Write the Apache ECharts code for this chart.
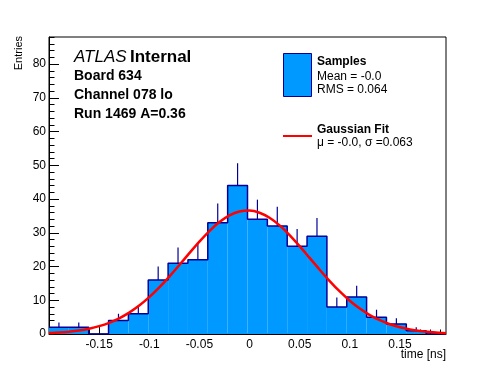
<!DOCTYPE html>
<html>
<head>
<meta charset="utf-8">
<script src="https://cdn.jsdelivr.net/npm/echarts@6/dist/echarts.min.js"></script>
<style>html,body{margin:0;padding:0;background:#fff;}#c{width:496px;height:372px;}</style>
</head>
<body>
<div id="c"></div>
<script>
// ---- data ----
const binEdges = [-0.2, -0.1802, -0.1604, -0.1406, -0.1208, -0.101, -0.0812, -0.0614, -0.0416, -0.0218, -0.002,
                  0.0178, 0.0376, 0.0574, 0.0772, 0.097, 0.1168, 0.1366, 0.1564, 0.1762, 0.196];
const counts = [2, 2, 0, 4, 6, 16, 21, 22, 33, 44, 34, 32, 26, 29, 8, 11, 5, 3, 1, 0];
const errUp  = [1.4, 1.4, 0, 2, 2.4, 4, 4.6, 4.7, 5.7, 6.6, 5.8, 5.7, 5.1, 5.4, 2.8, 3.3, 2.2, 1.7, 1, 0];
const fitX = [-0.20, -0.19, -0.18, -0.17, -0.16, -0.15, -0.14, -0.13, -0.12, -0.11, -0.10, -0.09, -0.08, -0.07, -0.06,
              -0.05, -0.04, -0.03, -0.02, -0.01, 0.00, 0.01, 0.02, 0.03, 0.04, 0.05, 0.06, 0.07, 0.08, 0.09, 0.10,
              0.11, 0.12, 0.13, 0.14, 0.15, 0.16, 0.17, 0.18, 0.19, 0.196];
const fitY = [0.26, 0.43, 0.68, 1.04, 1.58, 2.32, 3.32, 4.65, 6.34, 8.42, 10.91, 13.80, 17.01, 20.44, 23.96,
              27.38, 30.51, 33.16, 35.14, 36.31, 36.58, 35.94, 34.43, 32.17, 29.31, 26.03, 22.55, 19.05, 15.69, 12.60, 9.87,
              7.54, 5.61, 4.08, 2.89, 1.99, 1.34, 0.88, 0.56, 0.35, 0.25];
const xTickLabels = [-0.15, -0.1, -0.05, 0, 0.05, 0.1, 0.15];
const xMinorTicks = [-0.19, -0.18, -0.17, -0.16, -0.14, -0.13, -0.12, -0.11, -0.09, -0.08, -0.07, -0.06,
                     -0.04, -0.03, -0.02, -0.01, 0.01, 0.02, 0.03, 0.04, 0.06, 0.07, 0.08, 0.09,
                     0.11, 0.12, 0.13, 0.14, 0.16, 0.17, 0.18, 0.19];
const yTickLabels = [0, 10, 20, 30, 40, 50, 60, 70, 80];
const yMinorTicks = [2, 4, 6, 8, 12, 14, 16, 18, 22, 24, 26, 28, 32, 34, 36, 38, 42, 44, 46, 48,
                     52, 54, 56, 58, 62, 64, 66, 68, 72, 74, 76, 78, 82, 84, 86, 88];
const xMin = -0.2, xMax = 0.196, yMin = 0, yMax = 88;

const FONT = '"Liberation Sans", Arial, Helvetica, sans-serif';
const FILL = '#0099ff', LINE = '#000099';

const chart = echarts.init(document.getElementById('c'), null, {renderer: 'canvas'});

const histData = counts.map((c, i) => [binEdges[i], binEdges[i + 1], c]);
const outlineData = binEdges.map((e, i) => [e, i < counts.length ? counts[i] : counts[counts.length - 1]]);
const errData = counts.map((c, i) => [(binEdges[i] + binEdges[i + 1]) / 2, c, errUp[i]]).filter(d => d[1] > 0);
const fitData = fitX.map((x, i) => [x, fitY[i]]);

const majorX = {
  type: 'value', min: xMin, max: xMax, position: 'bottom',
  axisLine: {show: true, onZero: false, lineStyle: {color: '#000', width: 1}},
  axisTick: {show: true, inside: true, length: 9, lineStyle: {color: '#000'}, customValues: xTickLabels},
  axisLabel: {show: true, color: '#000', fontFamily: FONT, fontSize: 12, margin: 5, customValues: xTickLabels},
  splitLine: {show: false}
};
const minorX = {
  type: 'value', min: xMin, max: xMax, position: 'bottom',
  axisLine: {show: false, onZero: false},
  axisTick: {show: true, inside: true, length: 4.5, lineStyle: {color: '#000'}, customValues: xMinorTicks},
  axisLabel: {show: false},
  splitLine: {show: false}
};
const majorY = {
  type: 'value', min: yMin, max: yMax, position: 'left',
  axisLine: {show: true, onZero: false, lineStyle: {color: '#000', width: 1}},
  axisTick: {show: true, inside: true, length: 10, lineStyle: {color: '#000'}, customValues: yTickLabels},
  axisLabel: {show: true, color: '#000', fontFamily: FONT, fontSize: 12, margin: 3, customValues: yTickLabels},
  splitLine: {show: false}
};
const minorY = {
  type: 'value', min: yMin, max: yMax, position: 'left',
  axisLine: {show: false, onZero: false},
  axisTick: {show: true, inside: true, length: 5.5, lineStyle: {color: '#000'}, customValues: yMinorTicks},
  axisLabel: {show: false},
  splitLine: {show: false}
};

function txt(x, y, text, size, weight) {
  return {
    type: 'text', x: x, y: y, silent: true, z: 100,
    style: {text: text, fill: '#000', font: weight + ' ' + size + 'px ' + FONT, verticalAlign: 'middle', align: 'left'}
  };
}

const option = {
  animation: false,
  backgroundColor: '#fff',
  grid: {left: 49, right: 50, top: 37, bottom: 38, show: true, borderColor: '#000', borderWidth: 1, containLabel: false},
  xAxis: [majorX, minorX],
  yAxis: [majorY, minorY],
  series: [
    {
      type: 'custom', name: 'Samples', xAxisIndex: 0, yAxisIndex: 0, data: histData, z: 2,
      renderItem: function (params, api) {
        const p0 = api.coord([api.value(0), api.value(2)]);
        const p1 = api.coord([api.value(1), 0]);
        return {type: 'rect', shape: {x: p0[0], y: p0[1], width: p1[0] - p0[0], height: p1[1] - p0[1]},
                style: {fill: FILL}};
      }
    },
    {
      type: 'line', name: 'outline', xAxisIndex: 0, yAxisIndex: 0, data: outlineData, step: 'end',
      symbol: 'none', lineStyle: {color: LINE, width: 1.5}, z: 3, silent: true
    },
    {
      type: 'custom', name: 'errors', xAxisIndex: 0, yAxisIndex: 0, data: errData, z: 3,
      renderItem: function (params, api) {
        const a = api.coord([api.value(0), api.value(1)]);
        const b = api.coord([api.value(0), api.value(1) + api.value(2)]);
        return {type: 'line', shape: {x1: a[0], y1: a[1], x2: b[0], y2: b[1]}, style: {stroke: LINE, lineWidth: 1.2}};
      }
    },
    {
      type: 'line', name: 'Gaussian Fit', xAxisIndex: 0, yAxisIndex: 0, data: fitData, smooth: 0.3,
      symbol: 'none', lineStyle: {color: '#ff0000', width: 2.5}, z: 5, silent: true
    }
  ],
  graphic: [
    // axis titles
    {type: 'text', x: 446, y: 355, silent: true,
     style: {text: 'time [ns]', fill: '#000', font: 'normal 12px ' + FONT, verticalAlign: 'middle', align: 'right'}},
    {type: 'text', x: 19, y: 36, rotation: Math.PI / 2, silent: true,
     style: {text: 'Entries', fill: '#000', font: 'normal 11px ' + FONT, verticalAlign: 'middle', align: 'right'}},
    // ATLAS label
    {type: 'text', x: 74, y: 57.5, silent: true,
     style: {text: '{a|ATLAS} {b|Internal}', verticalAlign: 'middle', align: 'left',
             rich: {a: {fontFamily: FONT, fontSize: 17, fontStyle: 'italic', fill: '#000', color: '#000'},
                    b: {fontFamily: FONT, fontSize: 17, fontWeight: 'bold', fill: '#000', color: '#000'}}}},
    txt(74, 76.5, 'Board 634', 14, 'bold'),
    txt(74, 95.5, 'Channel 078 lo', 14, 'bold'),
    txt(74, 114.5, 'Run 1469 A=0.36', 14, 'bold'),
    // legend
    {type: 'rect', shape: {x: 283.5, y: 53.5, width: 28, height: 43}, silent: true,
     style: {fill: FILL, stroke: LINE, lineWidth: 1}},
    txt(317, 61.5, 'Samples', 12, 'bold'),
    txt(317, 76.5, 'Mean = -0.0', 12, 'normal'),
    txt(317, 89.5, 'RMS = 0.064', 12, 'normal'),
    {type: 'line', shape: {x1: 283, y1: 136, x2: 312, y2: 136}, silent: true, style: {stroke: '#ff0000', lineWidth: 2}},
    txt(317, 129.5, 'Gaussian Fit', 12, 'bold'),
    txt(317, 143, '\u03bc = -0.0, \u03c3 =0.063', 12, 'normal')
  ]
};
chart.setOption(option);
</script>
</body>
</html>
